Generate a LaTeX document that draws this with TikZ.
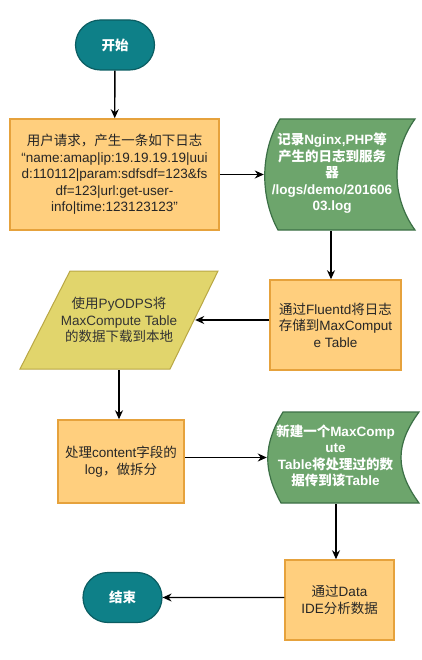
\documentclass[tikz,border=0pt]{standalone}
\usepackage{fontspec}
\setmainfont{Liberation Sans}
\newfontfamily\cjk{Noto Sans CJK SC}
\usetikzlibrary{shapes.misc,arrows.meta}
\newcommand\zh[1]{{\cjk #1}}
\newcommand\stack[1]{\begin{tabular}{@{}c@{}}#1\end{tabular}}
\definecolor{termfill}{HTML}{0E8088}
\definecolor{termline}{HTML}{0B5D62}
\definecolor{procfill}{HTML}{FFCF7E}
\definecolor{procline}{HTML}{E6A23C}
\definecolor{storefill}{HTML}{6DA56C}
\definecolor{storeline}{HTML}{3C7046}
\definecolor{iofill}{HTML}{E1D56C}
\definecolor{ioline}{HTML}{B9A744}
\begin{document}
\begin{tikzpicture}[x=1pt,y=-1pt,
				every node/.style={inner sep=0pt,font=\fontsize{13.5pt}{16.5pt}\selectfont},
				term/.style={rounded rectangle,draw=termline,fill=termfill,line width=1.2pt,
					minimum width=79pt,minimum height=50pt,text=white,font=\bfseries\fontsize{13.5pt}{16pt}\selectfont},
				proc/.style={rectangle,draw=procline,fill=procfill,line width=1.5pt,align=center,text=black!85},
				store/.style={rectangle,fill=white,text=white,font=\bfseries\fontsize{13.5pt}{16.5pt}\selectfont,
					path picture={\path[fill=storefill,draw=storeline,line width=1.2pt]
						([xshift=16pt,yshift=-1pt]path picture bounding box.north west)
						-- ([xshift=-1pt,yshift=-1pt]path picture bounding box.north east)
						.. controls ([xshift=-25pt,yshift=-34pt]path picture bounding box.north east)
						and ([xshift=-25pt,yshift=34pt]path picture bounding box.south east)
						.. ([xshift=-1pt,yshift=1pt]path picture bounding box.south east)
						-- ([xshift=14pt,yshift=1pt]path picture bounding box.south west)
						.. controls ([xshift=-4pt,yshift=34pt]path picture bounding box.south west)
						and ([xshift=-4pt,yshift=-34pt]path picture bounding box.north west)
						.. cycle;}},
				io/.style={rectangle,fill=white,align=center,text=black!80,
					path picture={\path[fill=iofill,draw=ioline,line width=1pt]
						([xshift=51pt,yshift=-1pt]path picture bounding box.north west)
						-- ([xshift=-1pt,yshift=-1pt]path picture bounding box.north east)
						-- ([xshift=-49pt,yshift=1pt]path picture bounding box.south east)
						-- ([xshift=1pt,yshift=1pt]path picture bounding box.south west)
						-- cycle;}},
				arr/.style={-{Stealth[length=9pt,width=8pt]},line width=1.4pt}
]
\useasboundingbox (0,0) rectangle (421,660);
\node[term] (start) at (115,45) {\zh{开始}};
\node[proc,minimum width=209pt,minimum height=111pt] (req) at (114.5,174.5)
	{\zh{用户请求，产生一条如下日志}\\“name:amap|ip:19.19.19.19|uui\\d:110112|param:sdfsdf=123\&fs\\df=123|url:get-user-\\info|time:123123123”};
\node[store,minimum width=152pt,minimum height=113pt] (rec) at (340,174.5)
	{\hspace*{-16pt}\stack{\zh{记录}Nginx,PHP\zh{等}\\\zh{产生的日志到服务}\\\zh{器}\\/logs/demo/201606\\03.log}};
\node[proc,minimum width=131pt,minimum height=90pt] (flu) at (335.5,325)
	{\zh{通过}Fluentd\zh{将日志}\\\zh{存储到}MaxComput\\e Table};
\node[io,minimum width=200pt,minimum height=100pt] (io) at (119,320)
	{\zh{使用}PyODPS\zh{将}\\MaxCompute Table\\\zh{的数据下载到本地}};
\node[proc,minimum width=126pt,minimum height=83pt] (proc) at (121,461.5)
	{\zh{处理}content\zh{字段的}\\log\zh{，做拆分}};
\node[store,minimum width=153pt,minimum height=93pt] (rec2) at (343.5,457.5)
	{\hspace*{-16pt}\stack{\zh{新建一个}MaxComp\\ute\\Table\zh{将处理过的数}\\\zh{据传到该}Table}};
\node[proc,minimum width=109pt,minimum height=80pt] (ide) at (339.5,600)
	{\zh{通过}Data\\IDE\zh{分析数据}};
\node[term] (stop) at (122.5,597.5) {\zh{结束}};
\path (flu.north) ++(-4.5,0) coordinate (fluin);
\path (ide.north) ++(-3.5,0) coordinate (idein);
% connectors
\draw[arr] (start) -- (req);
\draw[arr] (req) -- (rec);
\draw[arr] (rec.south -| fluin) -- (fluin);
\draw[arr] (flu.west |- io) -- ([xshift=-24pt]io.east);
\draw[arr] (io.south) -- (io.south |- proc.north);
\draw[arr] (proc.east |- rec2) -- (rec2);
\draw[arr] (rec2.south -| idein) -- (idein);
\draw[arr] (ide.west |- stop) -- (stop);
\end{tikzpicture}
\end{document}
